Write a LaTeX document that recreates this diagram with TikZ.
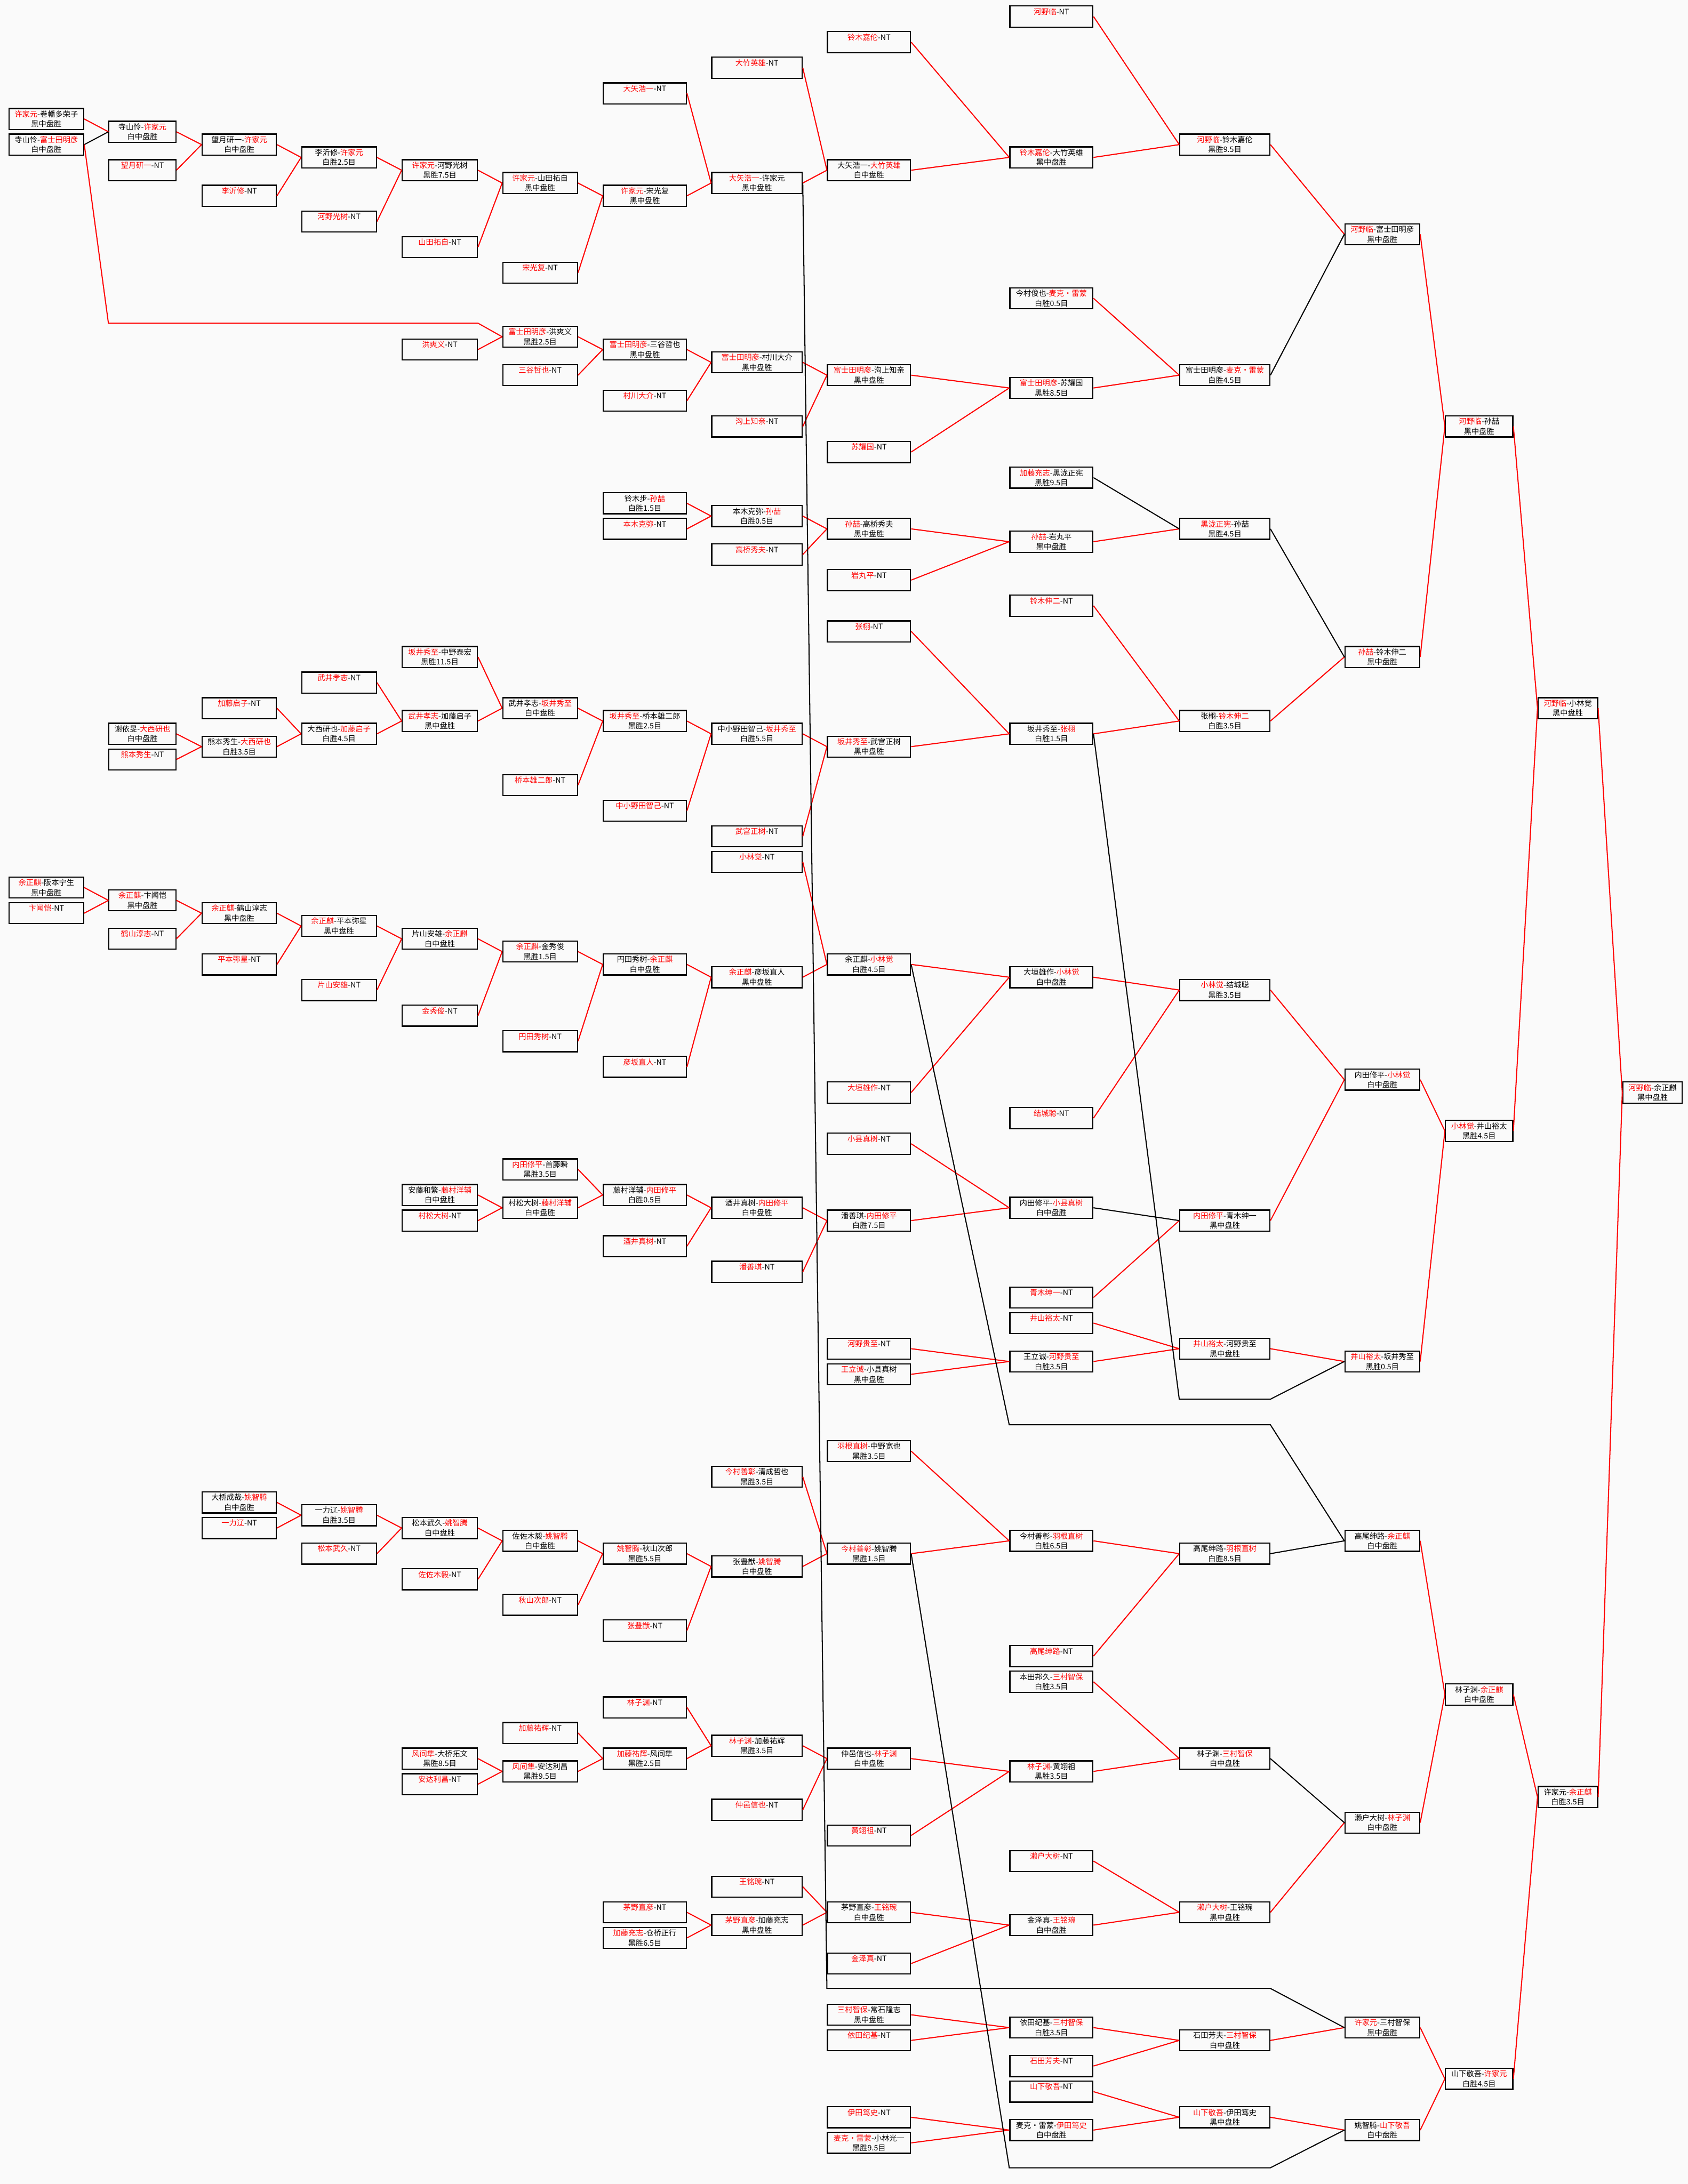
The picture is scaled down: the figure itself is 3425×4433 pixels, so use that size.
\documentclass[tikz,border=0pt]{standalone}
\usepackage{fontspec}
\setmainfont{Noto Sans CJK SC}
\usepackage{xcolor}
\definecolor{winred}{HTML}{FF0000}
\definecolor{paper}{HTML}{FAFAFA}
\newcommand{\wn}[1]{\textcolor{winred}{#1}}
\newcommand{\nt}[1]{\wn{#1}-NT\\\phantom{胜}}

\begin{document}
\begin{tikzpicture}[
  x=1pt, y=-1pt,
  declare function={rowy(\k)=33.5+26*\k;},
  game/.style={draw, line width=2.4pt, minimum width=#1, minimum height=42.6pt,
    inner sep=0pt, align=center, font=\fontsize{15.4}{20}\selectfont},
  col0/.style={game=151.6pt}, col1/.style={game=135.6pt},
  col2/.style={game=150.6pt}, col3/.style={game=151.6pt},
  col4/.style={game=152.6pt}, col5/.style={game=151.6pt},
  col6/.style={game=168.6pt}, col7/.style={game=183.6pt},
  col8/.style={game=168.6pt}, col9/.style={game=168.6pt},
  col10/.style={game=182.6pt}, col11/.style={game=151.6pt},
  col12/.style={game=136.6pt}, col13/.style={game=120.6pt},
  col14/.style={game=120.6pt},
  win/.style={draw=winred, line width=2.2pt},
  lose/.style={draw=black, line width=2.2pt}
]
  \path[use as bounding box, fill=paper] (0,0) rectangle (3425,4433);

  \node[col0] (c0r8)  at (94,{rowy(8)})  {\wn{许家元}-卷幡多荣子\\黑中盘胜};
  \node[col0] (c0r10) at (94,{rowy(10)}) {寺山怜-\wn{富士田明彦}\\白中盘胜};
  \node[col0] (c0r68) at (94,{rowy(68)}) {\wn{余正麒}-阪本宁生\\黑中盘胜};
  \node[col0] (c0r70) at (94,{rowy(70)}) {\nt{卞闻恺}};

  \node[col1] (c1r9)  at (289,{rowy(9)})  {寺山怜-\wn{许家元}\\白中盘胜};
  \node[col1] (c1r12) at (289,{rowy(12)}) {\nt{望月研一}};
  \node[col1] (c1r56) at (289,{rowy(56)}) {谢依旻-\wn{大西研也}\\白中盘胜};
  \node[col1] (c1r58) at (289,{rowy(58)}) {\nt{熊本秀生}};
  \node[col1] (c1r69) at (289,{rowy(69)}) {\wn{余正麒}-卞闻恺\\黑中盘胜};
  \node[col1] (c1r72) at (289,{rowy(72)}) {\nt{鹤山淳志}};

  \node[col2] (c2r10)  at (485.5,{rowy(10)})  {望月研一-\wn{许家元}\\白中盘胜};
  \node[col2] (c2r14)  at (485.5,{rowy(14)})  {\nt{李沂修}};
  \node[col2] (c2r54)  at (485.5,{rowy(54)})  {\nt{加藤启子}};
  \node[col2] (c2r57)  at (485.5,{rowy(57)})  {熊本秀生-\wn{大西研也}\\白胜3.5目};
  \node[col2] (c2r70)  at (485.5,{rowy(70)})  {\wn{余正麒}-鹤山淳志\\黑中盘胜};
  \node[col2] (c2r74)  at (485.5,{rowy(74)})  {\nt{平本弥星}};
  \node[col2] (c2r116) at (485.5,{rowy(116)}) {大桥成哉-\wn{姚智腾}\\白中盘胜};
  \node[col2] (c2r118) at (485.5,{rowy(118)}) {\nt{一力辽}};

  \node[col3] (c3r11)  at (688,{rowy(11)})  {李沂修-\wn{许家元}\\白胜2.5目};
  \node[col3] (c3r16)  at (688,{rowy(16)})  {\nt{河野光树}};
  \node[col3] (c3r52)  at (688,{rowy(52)})  {\nt{武井孝志}};
  \node[col3] (c3r56)  at (688,{rowy(56)})  {大西研也-\wn{加藤启子}\\白胜4.5目};
  \node[col3] (c3r71)  at (688,{rowy(71)})  {\wn{余正麒}-平本弥星\\黑中盘胜};
  \node[col3] (c3r76)  at (688,{rowy(76)})  {\nt{片山安雄}};
  \node[col3] (c3r117) at (688,{rowy(117)}) {一力辽-\wn{姚智腾}\\白胜3.5目};
  \node[col3] (c3r120) at (688,{rowy(120)}) {\nt{松本武久}};

  \node[col4] (c4r12)  at (892.5,{rowy(12)})  {\wn{许家元}-河野光树\\黑胜7.5目};
  \node[col4] (c4r18)  at (892.5,{rowy(18)})  {\nt{山田拓自}};
  \node[col4] (c4r26)  at (892.5,{rowy(26)})  {\nt{洪爽义}};
  \node[col4] (c4r50)  at (892.5,{rowy(50)})  {\wn{坂井秀至}-中野泰宏\\黑胜11.5目};
  \node[col4] (c4r55)  at (892.5,{rowy(55)})  {\wn{武井孝志}-加藤启子\\黑中盘胜};
  \node[col4] (c4r72)  at (892.5,{rowy(72)})  {片山安雄-\wn{余正麒}\\白中盘胜};
  \node[col4] (c4r78)  at (892.5,{rowy(78)})  {\nt{金秀俊}};
  \node[col4] (c4r92)  at (892.5,{rowy(92)})  {安藤和繁-\wn{藤村洋辅}\\白中盘胜};
  \node[col4] (c4r94)  at (892.5,{rowy(94)})  {\nt{村松大树}};
  \node[col4] (c4r118) at (892.5,{rowy(118)}) {松本武久-\wn{姚智腾}\\白中盘胜};
  \node[col4] (c4r122) at (892.5,{rowy(122)}) {\nt{佐佐木毅}};
  \node[col4] (c4r136) at (892.5,{rowy(136)}) {\wn{风间隼}-大桥拓文\\黑胜8.5目};
  \node[col4] (c4r138) at (892.5,{rowy(138)}) {\nt{安达利昌}};

  \node[col5] (c5r13)  at (1096,{rowy(13)})  {\wn{许家元}-山田拓自\\黑中盘胜};
  \node[col5] (c5r20)  at (1096,{rowy(20)})  {\nt{宋光复}};
  \node[col5] (c5r25)  at (1096,{rowy(25)})  {\wn{富士田明彦}-洪爽义\\黑胜2.5目};
  \node[col5] (c5r28)  at (1096,{rowy(28)})  {\nt{三谷哲也}};
  \node[col5] (c5r54)  at (1096,{rowy(54)})  {武井孝志-\wn{坂井秀至}\\白中盘胜};
  \node[col5] (c5r60)  at (1096,{rowy(60)})  {\nt{桥本雄二郎}};
  \node[col5] (c5r73)  at (1096,{rowy(73)})  {\wn{余正麒}-金秀俊\\黑胜1.5目};
  \node[col5] (c5r80)  at (1096,{rowy(80)})  {\nt{円田秀树}};
  \node[col5] (c5r90)  at (1096,{rowy(90)})  {\wn{内田修平}-首藤瞬\\黑胜3.5目};
  \node[col5] (c5r93)  at (1096,{rowy(93)})  {村松大树-\wn{藤村洋辅}\\白中盘胜};
  \node[col5] (c5r119) at (1096,{rowy(119)}) {佐佐木毅-\wn{姚智腾}\\白中盘胜};
  \node[col5] (c5r124) at (1096,{rowy(124)}) {\nt{秋山次郎}};
  \node[col5] (c5r134) at (1096,{rowy(134)}) {\nt{加藤祐辉}};
  \node[col5] (c5r137) at (1096,{rowy(137)}) {\wn{风间隼}-安达利昌\\黑胜9.5目};

  \node[col6] (c6r6)   at (1308.5,{rowy(6)})   {\nt{大矢浩一}};
  \node[col6] (c6r14)  at (1308.5,{rowy(14)})  {\wn{许家元}-宋光复\\黑中盘胜};
  \node[col6] (c6r26)  at (1308.5,{rowy(26)})  {\wn{富士田明彦}-三谷哲也\\黑中盘胜};
  \node[col6] (c6r30)  at (1308.5,{rowy(30)})  {\nt{村川大介}};
  \node[col6] (c6r38)  at (1308.5,{rowy(38)})  {铃木步-\wn{孙喆}\\白胜1.5目};
  \node[col6] (c6r40)  at (1308.5,{rowy(40)})  {\nt{本木克弥}};
  \node[col6] (c6r55)  at (1308.5,{rowy(55)})  {\wn{坂井秀至}-桥本雄二郎\\黑胜2.5目};
  \node[col6] (c6r62)  at (1308.5,{rowy(62)})  {\nt{中小野田智己}};
  \node[col6] (c6r74)  at (1308.5,{rowy(74)})  {円田秀树-\wn{余正麒}\\白中盘胜};
  \node[col6] (c6r82)  at (1308.5,{rowy(82)})  {\nt{彦坂直人}};
  \node[col6] (c6r92)  at (1308.5,{rowy(92)})  {藤村洋辅-\wn{内田修平}\\白胜0.5目};
  \node[col6] (c6r96)  at (1308.5,{rowy(96)})  {\nt{酒井真树}};
  \node[col6] (c6r120) at (1308.5,{rowy(120)}) {\wn{姚智腾}-秋山次郎\\黑胜5.5目};
  \node[col6] (c6r126) at (1308.5,{rowy(126)}) {\nt{张豊猷}};
  \node[col6] (c6r132) at (1308.5,{rowy(132)}) {\nt{林子渊}};
  \node[col6] (c6r136) at (1308.5,{rowy(136)}) {\wn{加藤祐辉}-风间隼\\黑胜2.5目};
  \node[col6] (c6r148) at (1308.5,{rowy(148)}) {\nt{茅野直彦}};
  \node[col6] (c6r150) at (1308.5,{rowy(150)}) {\wn{加藤充志}-仓桥正行\\黑胜6.5目};

  \node[col7] (c7r4)   at (1536,{rowy(4)})   {\nt{大竹英雄}};
  \node[col7] (c7r13)  at (1536,{rowy(13)})  {\wn{大矢浩一}-许家元\\黑中盘胜};
  \node[col7] (c7r27)  at (1536,{rowy(27)})  {\wn{富士田明彦}-村川大介\\黑中盘胜};
  \node[col7] (c7r32)  at (1536,{rowy(32)})  {\nt{沟上知亲}};
  \node[col7] (c7r39)  at (1536,{rowy(39)})  {本木克弥-\wn{孙喆}\\白胜0.5目};
  \node[col7] (c7r42)  at (1536,{rowy(42)})  {\nt{高桥秀夫}};
  \node[col7] (c7r56)  at (1536,{rowy(56)})  {中小野田智己-\wn{坂井秀至}\\白胜5.5目};
  \node[col7] (c7r64)  at (1536,{rowy(64)})  {\nt{武宫正树}};
  \node[col7] (c7r66)  at (1536,{rowy(66)})  {\nt{小林觉}};
  \node[col7] (c7r75)  at (1536,{rowy(75)})  {\wn{余正麒}-彦坂直人\\黑中盘胜};
  \node[col7] (c7r93)  at (1536,{rowy(93)})  {酒井真树-\wn{内田修平}\\白中盘胜};
  \node[col7] (c7r98)  at (1536,{rowy(98)})  {\nt{潘善琪}};
  \node[col7] (c7r114) at (1536,{rowy(114)}) {\wn{今村善彰}-清成哲也\\黑胜3.5目};
  \node[col7] (c7r121) at (1536,{rowy(121)}) {张豊猷-\wn{姚智腾}\\白中盘胜};
  \node[col7] (c7r135) at (1536,{rowy(135)}) {\wn{林子渊}-加藤祐辉\\黑胜3.5目};
  \node[col7] (c7r140) at (1536,{rowy(140)}) {\nt{仲邑信也}};
  \node[col7] (c7r146) at (1536,{rowy(146)}) {\nt{王铭琬}};
  \node[col7] (c7r149) at (1536,{rowy(149)}) {\wn{茅野直彦}-加藤充志\\黑中盘胜};

  \node[col8] (c8r2)   at (1763.5,{rowy(2)})   {\nt{铃木嘉伦}};
  \node[col8] (c8r12)  at (1763.5,{rowy(12)})  {大矢浩一-\wn{大竹英雄}\\白中盘胜};
  \node[col8] (c8r28)  at (1763.5,{rowy(28)})  {\wn{富士田明彦}-沟上知亲\\黑中盘胜};
  \node[col8] (c8r34)  at (1763.5,{rowy(34)})  {\nt{苏耀国}};
  \node[col8] (c8r40)  at (1763.5,{rowy(40)})  {\wn{孙喆}-高桥秀夫\\黑中盘胜};
  \node[col8] (c8r44)  at (1763.5,{rowy(44)})  {\nt{岩丸平}};
  \node[col8] (c8r48)  at (1763.5,{rowy(48)})  {\nt{张栩}};
  \node[col8] (c8r57)  at (1763.5,{rowy(57)})  {\wn{坂井秀至}-武宫正树\\黑中盘胜};
  \node[col8] (c8r74)  at (1763.5,{rowy(74)})  {余正麒-\wn{小林觉}\\白胜4.5目};
  \node[col8] (c8r84)  at (1763.5,{rowy(84)})  {\nt{大垣雄作}};
  \node[col8] (c8r88)  at (1763.5,{rowy(88)})  {\nt{小县真树}};
  \node[col8] (c8r94)  at (1763.5,{rowy(94)})  {潘善琪-\wn{内田修平}\\白胜7.5目};
  \node[col8] (c8r104) at (1763.5,{rowy(104)}) {\nt{河野贵至}};
  \node[col8] (c8r106) at (1763.5,{rowy(106)}) {\wn{王立诚}-小县真树\\黑中盘胜};
  \node[col8] (c8r112) at (1763.5,{rowy(112)}) {\wn{羽根直树}-中野宽也\\黑胜3.5目};
  \node[col8] (c8r120) at (1763.5,{rowy(120)}) {\wn{今村善彰}-姚智腾\\黑胜1.5目};
  \node[col8] (c8r136) at (1763.5,{rowy(136)}) {仲邑信也-\wn{林子渊}\\白中盘胜};
  \node[col8] (c8r142) at (1763.5,{rowy(142)}) {\nt{黄翊祖}};
  \node[col8] (c8r148) at (1763.5,{rowy(148)}) {茅野直彦-\wn{王铭琬}\\白中盘胜};
  \node[col8] (c8r152) at (1763.5,{rowy(152)}) {\nt{金泽真}};
  \node[col8] (c8r156) at (1763.5,{rowy(156)}) {\wn{三村智保}-常石隆志\\黑中盘胜};
  \node[col8] (c8r158) at (1763.5,{rowy(158)}) {\nt{依田纪基}};
  \node[col8] (c8r164) at (1763.5,{rowy(164)}) {\nt{伊田笃史}};
  \node[col8] (c8r166) at (1763.5,{rowy(166)}) {\wn{麦克・雷蒙}-小林光一\\黑胜9.5目};

  \node[col9] (c9r0)   at (2133.5,{rowy(0)})   {\nt{河野临}};
  \node[col9] (c9r11)  at (2133.5,{rowy(11)})  {\wn{铃木嘉伦}-大竹英雄\\黑中盘胜};
  \node[col9] (c9r22)  at (2133.5,{rowy(22)})  {今村俊也-\wn{麦克・雷蒙}\\白胜0.5目};
  \node[col9] (c9r29)  at (2133.5,{rowy(29)})  {\wn{富士田明彦}-苏耀国\\黑胜8.5目};
  \node[col9] (c9r36)  at (2133.5,{rowy(36)})  {\wn{加藤充志}-黑泷正宪\\黑胜9.5目};
  \node[col9] (c9r41)  at (2133.5,{rowy(41)})  {\wn{孙喆}-岩丸平\\黑中盘胜};
  \node[col9] (c9r46)  at (2133.5,{rowy(46)})  {\nt{铃木伸二}};
  \node[col9] (c9r56)  at (2133.5,{rowy(56)})  {坂井秀至-\wn{张栩}\\白胜1.5目};
  \node[col9] (c9r75)  at (2133.5,{rowy(75)})  {大垣雄作-\wn{小林觉}\\白中盘胜};
  \node[col9] (c9r86)  at (2133.5,{rowy(86)})  {\nt{结城聪}};
  \node[col9] (c9r93)  at (2133.5,{rowy(93)})  {内田修平-\wn{小县真树}\\白中盘胜};
  \node[col9] (c9r100) at (2133.5,{rowy(100)}) {\nt{青木绅一}};
  \node[col9] (c9r102) at (2133.5,{rowy(102)}) {\nt{井山裕太}};
  \node[col9] (c9r105) at (2133.5,{rowy(105)}) {王立诚-\wn{河野贵至}\\白胜3.5目};
  \node[col9] (c9r119) at (2133.5,{rowy(119)}) {今村善彰-\wn{羽根直树}\\白胜6.5目};
  \node[col9] (c9r128) at (2133.5,{rowy(128)}) {\nt{高尾绅路}};
  \node[col9] (c9r130) at (2133.5,{rowy(130)}) {本田邦久-\wn{三村智保}\\白胜3.5目};
  \node[col9] (c9r137) at (2133.5,{rowy(137)}) {\wn{林子渊}-黄翊祖\\黑胜3.5目};
  \node[col9] (c9r144) at (2133.5,{rowy(144)}) {\nt{濑户大树}};
  \node[col9] (c9r149) at (2133.5,{rowy(149)}) {金泽真-\wn{王铭琬}\\白中盘胜};
  \node[col9] (c9r157) at (2133.5,{rowy(157)}) {依田纪基-\wn{三村智保}\\白胜3.5目};
  \node[col9] (c9r160) at (2133.5,{rowy(160)}) {\nt{石田芳夫}};
  \node[col9] (c9r162) at (2133.5,{rowy(162)}) {\nt{山下敬吾}};
  \node[col9] (c9r165) at (2133.5,{rowy(165)}) {麦克・雷蒙-\wn{伊田笃史}\\白中盘胜};

  \node[col10] (c10r10)  at (2485.5,{rowy(10)})  {\wn{河野临}-铃木嘉伦\\黑胜9.5目};
  \node[col10] (c10r28)  at (2485.5,{rowy(28)})  {富士田明彦-\wn{麦克・雷蒙}\\白胜4.5目};
  \node[col10] (c10r40)  at (2485.5,{rowy(40)})  {\wn{黑泷正宪}-孙喆\\黑胜4.5目};
  \node[col10] (c10r55)  at (2485.5,{rowy(55)})  {张栩-\wn{铃木伸二}\\白胜3.5目};
  \node[col10] (c10r76)  at (2485.5,{rowy(76)})  {\wn{小林觉}-结城聪\\黑胜3.5目};
  \node[col10] (c10r94)  at (2485.5,{rowy(94)})  {\wn{内田修平}-青木绅一\\黑中盘胜};
  \node[col10] (c10r104) at (2485.5,{rowy(104)}) {\wn{井山裕太}-河野贵至\\黑中盘胜};
  \node[col10] (c10r120) at (2485.5,{rowy(120)}) {高尾绅路-\wn{羽根直树}\\白胜8.5目};
  \node[col10] (c10r136) at (2485.5,{rowy(136)}) {林子渊-\wn{三村智保}\\白中盘胜};
  \node[col10] (c10r148) at (2485.5,{rowy(148)}) {\wn{濑户大树}-王铭琬\\黑中盘胜};
  \node[col10] (c10r158) at (2485.5,{rowy(158)}) {石田芳夫-\wn{三村智保}\\白中盘胜};
  \node[col10] (c10r164) at (2485.5,{rowy(164)}) {\wn{山下敬吾}-伊田笃史\\黑中盘胜};

  \node[col11] (c11r17)  at (2805,{rowy(17)})  {\wn{河野临}-富士田明彦\\黑中盘胜};
  \node[col11] (c11r50)  at (2805,{rowy(50)})  {\wn{孙喆}-铃木伸二\\黑中盘胜};
  \node[col11] (c11r83)  at (2805,{rowy(83)})  {内田修平-\wn{小林觉}\\白中盘胜};
  \node[col11] (c11r105) at (2805,{rowy(105)}) {\wn{井山裕太}-坂井秀至\\黑胜0.5目};
  \node[col11] (c11r119) at (2805,{rowy(119)}) {高尾绅路-\wn{余正麒}\\白中盘胜};
  \node[col11] (c11r141) at (2805,{rowy(141)}) {濑户大树-\wn{林子渊}\\白中盘胜};
  \node[col11] (c11r157) at (2805,{rowy(157)}) {\wn{许家元}-三村智保\\黑中盘胜};
  \node[col11] (c11r165) at (2805,{rowy(165)}) {姚智腾-\wn{山下敬吾}\\白中盘胜};

  \node[col12] (c12r32)  at (3001.5,{rowy(32)})  {\wn{河野临}-孙喆\\黑中盘胜};
  \node[col12] (c12r87)  at (3001.5,{rowy(87)})  {\wn{小林觉}-井山裕太\\黑胜4.5目};
  \node[col12] (c12r131) at (3001.5,{rowy(131)}) {林子渊-\wn{余正麒}\\白中盘胜};
  \node[col12] (c12r161) at (3001.5,{rowy(161)}) {山下敬吾-\wn{许家元}\\白胜4.5目};

  \node[col13] (c13r54)  at (3181.5,{rowy(54)})  {\wn{河野临}-小林觉\\黑中盘胜};
  \node[col13] (c13r139) at (3181.5,{rowy(139)}) {许家元-\wn{余正麒}\\白胜3.5目};

  \node[col14] (c14r84)  at (3353.5,{rowy(84)})  {\wn{河野临}-余正麒\\黑中盘胜};

  \coordinate (fujiA)  at (220,656);   \coordinate (fujiB)  at (970,656);
  \coordinate (xuA)    at (1678,4036); \coordinate (xuB)    at (2578,4036);
  \coordinate (yuA)    at (2048,2892); \coordinate (yuB)    at (2578,2892);
  \coordinate (sakaiA) at (2393,2840); \coordinate (sakaiB) at (2578,2840);
  \coordinate (yaoA)   at (2048,4400); \coordinate (yaoB)   at (2578,4400);

  \foreach \a/\b in {c0r8/c1r9, c1r9/c2r10, c1r12/c2r10, c2r10/c3r11, c2r14/c3r11,
    c3r11/c4r12, c3r16/c4r12, c4r12/c5r13, c4r18/c5r13, c4r26/c5r25, c5r13/c6r14,
    c5r20/c6r14, c5r25/c6r26, c5r28/c6r26, c6r6/c7r13, c6r14/c7r13, c7r4/c8r12,
    c7r13/c8r12, c8r2/c9r11, c8r12/c9r11, c9r0/c10r10, c9r11/c10r10, c10r10/c11r17,
    c11r17/c12r32, c6r26/c7r27, c6r30/c7r27, c7r27/c8r28, c7r32/c8r28, c8r28/c9r29,
    c8r34/c9r29, c9r22/c10r28, c9r29/c10r28, c6r38/c7r39, c6r40/c7r39, c7r39/c8r40,
    c7r42/c8r40, c8r40/c9r41, c8r44/c9r41, c9r41/c10r40, c11r50/c12r32, c12r32/c13r54,
    c9r46/c10r55, c9r56/c10r55, c10r55/c11r50, c13r54/c14r84, c4r50/c5r54, c4r55/c5r54,
    c3r52/c4r55, c3r56/c4r55, c2r54/c3r56, c2r57/c3r56, c1r56/c2r57, c1r58/c2r57,
    c5r54/c6r55, c5r60/c6r55, c6r55/c7r56, c6r62/c7r56, c7r56/c8r57, c7r64/c8r57,
    c8r48/c9r56, c8r57/c9r56, c0r68/c1r69, c0r70/c1r69, c1r69/c2r70, c1r72/c2r70,
    c2r70/c3r71, c2r74/c3r71, c3r71/c4r72, c3r76/c4r72, c4r72/c5r73, c4r78/c5r73,
    c5r73/c6r74, c5r80/c6r74, c6r74/c7r75, c6r82/c7r75, c7r66/c8r74, c7r75/c8r74,
    c8r74/c9r75, c8r84/c9r75, c9r75/c10r76, c9r86/c10r76, c10r76/c11r83, c11r83/c12r87,
    c12r87/c13r54, c4r92/c5r93, c4r94/c5r93, c5r90/c6r92, c5r93/c6r92, c6r92/c7r93,
    c6r96/c7r93, c7r93/c8r94, c7r98/c8r94, c8r88/c9r93, c8r94/c9r93, c9r100/c10r94,
    c10r94/c11r83, c9r102/c10r104, c9r105/c10r104, c8r104/c9r105, c8r106/c9r105,
    c10r104/c11r105, c11r105/c12r87, c2r116/c3r117, c2r118/c3r117, c3r117/c4r118,
    c3r120/c4r118, c4r118/c5r119, c4r122/c5r119, c5r119/c6r120, c5r124/c6r120,
    c6r120/c7r121, c6r126/c7r121, c7r114/c8r120, c7r121/c8r120, c8r112/c9r119,
    c8r120/c9r119, c9r119/c10r120, c9r128/c10r120, c11r119/c12r131, c4r136/c5r137,
    c4r138/c5r137, c5r134/c6r136, c5r137/c6r136, c6r132/c7r135, c6r136/c7r135,
    c7r135/c8r136, c7r140/c8r136, c8r136/c9r137, c8r142/c9r137, c9r130/c10r136,
    c9r137/c10r136, c9r144/c10r148, c9r149/c10r148, c10r148/c11r141, c11r141/c12r131,
    c12r131/c13r139, c13r139/c14r84, c7r146/c8r148, c7r149/c8r148, c6r148/c7r149,
    c6r150/c7r149, c8r148/c9r149, c8r152/c9r149, c8r156/c9r157, c8r158/c9r157,
    c9r157/c10r158, c9r160/c10r158, c10r158/c11r157, c11r157/c12r161, c9r162/c10r164,
    c9r165/c10r164, c8r164/c9r165, c8r166/c9r165, c10r164/c11r165, c11r165/c12r161,
    c12r161/c13r139}
    \draw[win] (\a.east) -- (\b.west);

  \foreach \a/\b in {c0r10/c1r9, c10r28/c11r17, c9r36/c10r40, c10r40/c11r50,
    c9r93/c10r94, c10r120/c11r119, c10r136/c11r141}
    \draw[lose] (\a.east) -- (\b.west);

  \draw[win] (c0r10.east) -- (fujiA) -- (fujiB) -- (c5r25.west);
  \draw[lose] (c7r13.east) -- (xuA) -- (xuB) -- (c11r157.west);
  \draw[lose] (c8r74.east) -- (yuA) -- (yuB) -- (c11r119.west);
  \draw[lose] (c9r56.east) -- (sakaiA) -- (sakaiB) -- (c11r105.west);
  \draw[lose] (c8r120.east) -- (yaoA) -- (yaoB) -- (c11r165.west);
\end{tikzpicture}
\end{document}
